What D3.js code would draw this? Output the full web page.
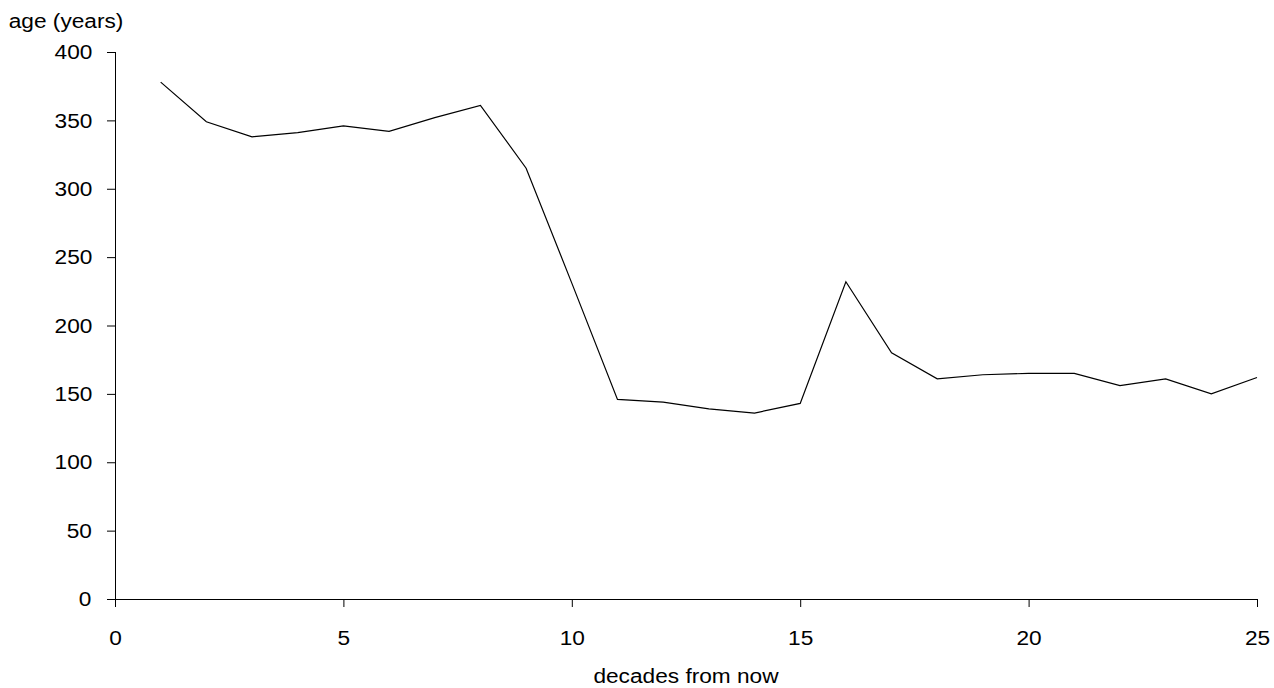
<!DOCTYPE html>
<html>
<head>
<meta charset="utf-8">
<script src="https://cdn.jsdelivr.net/npm/d3@7"></script>
<style>
  body { margin: 0; background: #fff; }
  svg text { font-family: "Liberation Sans", Arial, sans-serif; fill: #000; }
  .stretch { transform-box: fill-box; transform-origin: center; transform: scaleX(1.08); }
</style>
</head>
<body>
<svg id="chart" width="1274" height="688"></svg>
<script>
// Chart values
var decades = [1, 2, 3, 4, 5, 6, 7, 8, 9, 10, 11, 12, 13, 14, 15, 16, 17, 18, 19, 20, 21, 22, 23, 24, 25];
var ages = [378, 349, 338, 341, 346, 342, 352, 361, 315, 231, 146, 144, 139, 136, 143, 232, 180, 161, 164, 165, 165, 156, 161, 150, 162];
var xTicks = [0, 5, 10, 15, 20, 25];
var yTicks = [0, 50, 100, 150, 200, 250, 300, 350, 400];

var svg = d3.select('#chart');
var margin = {top: 52, left: 115, right: 17, bottom: 89};
var w = 1274 - margin.left - margin.right;
var h = 688 - margin.top - margin.bottom;

var x = d3.scaleLinear().domain([0, 25]).range([margin.left, margin.left + w]);
var y = d3.scaleLinear().domain([0, 400]).range([margin.top + h, margin.top]);

// Axes
var gx = svg.append('g')
  .attr('transform', 'translate(0,' + (margin.top + h) + ')')
  .call(d3.axisBottom(x).tickValues(xTicks).tickSize(8).tickPadding(23));

var gy = svg.append('g')
  .attr('transform', 'translate(' + margin.left + ',0)')
  .call(d3.axisLeft(y).tickValues(yTicks).tickSize(8).tickPadding(16));

[gx, gy].forEach(function(g) {
  g.selectAll('path, line').attr('stroke', '#000').attr('stroke-width', 1);
  g.select('.domain').attr('d', function() {
    return g === gx
      ? 'M' + margin.left + ',0.5H' + (margin.left + w)
      : 'M0.5,' + (margin.top + h) + 'V' + margin.top;
  });
  g.selectAll('text')
    .attr('font-size', 21)
    .attr('font-family', '"Liberation Sans", Arial, sans-serif')
    .attr('fill', '#000')
    .classed('stretch', true);
});

// Series line
var line = d3.line()
  .x(function(d, i) { return x(decades[i]); })
  .y(function(d) { return y(d); });

svg.append('path')
  .datum(ages)
  .attr('d', line)
  .attr('fill', 'none')
  .attr('stroke', '#000')
  .attr('stroke-width', 1.2);

// Titles
svg.append('text')
  .attr('x', 13)
  .attr('y', 28)
  .attr('font-size', 21)
  .attr('class', 'stretch')
  .text('age (years)');

svg.append('text')
  .attr('x', x(12.5))
  .attr('y', 683)
  .attr('text-anchor', 'middle')
  .attr('font-size', 21)
  .attr('class', 'stretch')
  .text('decades from now');
</script>
</body>
</html>
